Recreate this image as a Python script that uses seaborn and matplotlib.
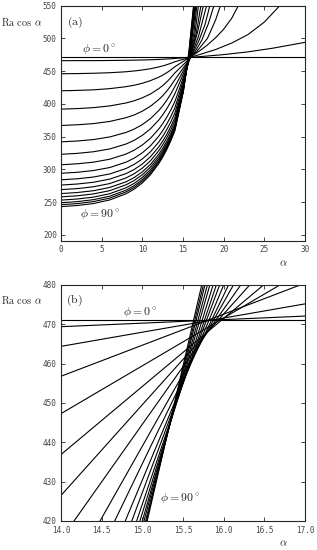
import matplotlib
matplotlib.use("Agg")
import matplotlib.pyplot as plt
import seaborn as sns
import pandas as pd

# Werte: Ra cos(alpha) gegen alpha, Kurven fuer phi = 0..90 Grad
phi_deg = [0, 5, 10, 15, 20, 25, 30, 35, 40, 45, 50, 55, 60, 65, 70, 75, 80, 85, 90]

alpha_flat = [0, 30]
ra_flat = [471.1, 471.1]

# gemeinsame alpha-Stellen fuer den unteren Teil jeder Kurve
alpha_low = [0, 2, 4, 6, 8, 9, 10, 11, 12, 12.5, 13, 13.5, 14]
ra_low_05 = [466.0, 466.1, 466.1, 466.3, 466.6, 466.8, 467.1, 467.4, 467.9, 468.2, 468.6, 468.9, 469.4]
ra_low_10 = [446.0, 446.3, 446.8, 447.6, 449.1, 450.3, 451.8, 453.7, 456.4, 458.0, 459.8, 462.0, 464.4]
ra_low_15 = [420.0, 420.6, 421.5, 423.3, 426.3, 428.5, 431.5, 435.5, 440.7, 443.9, 447.6, 451.9, 456.8]
ra_low_20 = [392.0, 392.8, 394.3, 396.9, 401.4, 404.8, 409.3, 415.2, 423.1, 427.9, 433.5, 440.0, 447.3]
ra_low_25 = [367.0, 368.1, 369.9, 373.2, 378.9, 383.1, 388.9, 396.4, 406.4, 412.4, 419.5, 427.6, 436.9]
ra_low_30 = [342.0, 343.3, 345.5, 349.5, 356.4, 361.5, 368.4, 377.5, 389.6, 396.9, 405.5, 415.3, 426.5]
ra_low_35 = [323.0, 324.4, 326.9, 331.2, 338.7, 344.4, 352.0, 361.9, 375.1, 383.1, 392.5, 403.2, 415.5]
ra_low_40 = [307.0, 308.5, 311.0, 315.5, 323.4, 329.3, 337.2, 347.5, 361.3, 369.7, 379.5, 390.7, 403.5]
ra_low_45 = [294.0, 295.5, 298.2, 302.8, 311.0, 317.1, 325.3, 336.0, 350.3, 359.0, 369.1, 380.7, 394.0]
ra_low_50 = [284.0, 285.6, 288.3, 293.0, 301.3, 307.6, 315.9, 326.8, 341.4, 350.3, 360.6, 372.4, 386.0]
ra_low_55 = [276.0, 277.6, 280.3, 285.1, 293.5, 299.8, 308.2, 319.3, 334.0, 343.0, 353.4, 365.3, 379.0]
ra_low_60 = [269.0, 270.6, 273.4, 278.3, 286.9, 293.3, 301.9, 313.1, 328.1, 337.3, 347.9, 360.0, 374.0]
ra_low_65 = [263.0, 264.6, 267.4, 272.4, 281.0, 287.5, 296.2, 307.5, 322.7, 331.9, 342.6, 354.9, 369.0]
ra_low_70 = [258.0, 259.6, 262.5, 267.5, 276.4, 283.0, 291.8, 303.4, 318.8, 328.2, 339.1, 351.6, 366.0]
ra_low_75 = [253.0, 254.7, 257.6, 262.8, 271.9, 278.6, 287.7, 299.6, 315.5, 325.2, 336.4, 349.2, 364.0]
ra_low_80 = [249.0, 250.7, 253.7, 259.0, 268.2, 275.1, 284.4, 296.5, 312.6, 322.5, 333.9, 347.0, 362.0]
ra_low_85 = [246.0, 247.7, 250.8, 256.1, 265.5, 272.4, 281.8, 294.1, 310.5, 320.4, 332.0, 345.3, 360.5]
ra_low_90 = [243.0, 244.8, 247.8, 253.3, 262.7, 269.8, 279.3, 291.7, 308.3, 318.4, 330.1, 343.6, 359.0]

# oberer Teil (alpha > 14), aus Bild (b) und dem oberen Rand von (a)
alpha_up_05 = [17, 20, 23, 26, 30]
ra_up_05 = [472.1, 475.3, 479.5, 485.0, 494.0]
alpha_up_10 = [17, 19, 21, 23, 25, 26.9]
ra_up_10 = [475.2, 483, 493, 506, 525, 550]
alpha_up_15 = [16.94, 18, 19, 20, 21, 21.8]
ra_up_15 = [480, 490, 501, 514, 531, 550]
alpha_up_20 = [16.69, 18, 19, 19.6]
ra_up_20 = [480, 500, 528, 550]
alpha_up_25 = [16.49, 17.3, 18.1, 18.8]
ra_up_25 = [480, 497, 522, 550]
alpha_up_30 = [16.32, 17.0, 17.7, 18.3]
ra_up_30 = [480, 498, 521, 550]
alpha_up_35 = [14.16, 16.21, 16.9, 17.9]
ra_up_35 = [420, 480, 503, 550]
alpha_up_40 = [14.48, 16.12, 16.8, 17.5]
ra_up_40 = [420, 480, 510, 550]
alpha_up_45 = [14.66, 16.06, 16.6, 17.2]
ra_up_45 = [420, 480, 506, 550]
alpha_up_50 = [14.79, 16.0, 16.45, 16.9]
ra_up_50 = [420, 480, 506, 550]
alpha_up_55 = [14.87, 15.95, 16.35, 16.7]
ra_up_55 = [420, 480, 509, 550]
alpha_up_60 = [14.93, 15.91, 16.6]
alpha_up_65 = [14.97, 15.87, 16.5]
alpha_up_70 = [15.00, 15.83, 16.45]
alpha_up_75 = [15.02, 15.80, 16.4]
alpha_up_80 = [15.04, 15.77, 16.35]
alpha_up_85 = [15.05, 15.75, 16.33]
alpha_up_90 = [15.06, 15.73, 16.3]
ra_up_steep = [420, 480, 550]

curves = [
    (0, alpha_flat, ra_flat),
    (5, alpha_low + alpha_up_05, ra_low_05 + ra_up_05),
    (10, alpha_low + alpha_up_10, ra_low_10 + ra_up_10),
    (15, alpha_low + alpha_up_15, ra_low_15 + ra_up_15),
    (20, alpha_low + alpha_up_20, ra_low_20 + ra_up_20),
    (25, alpha_low + alpha_up_25, ra_low_25 + ra_up_25),
    (30, alpha_low + alpha_up_30, ra_low_30 + ra_up_30),
    (35, alpha_low + alpha_up_35, ra_low_35 + ra_up_35),
    (40, alpha_low + alpha_up_40, ra_low_40 + ra_up_40),
    (45, alpha_low + alpha_up_45, ra_low_45 + ra_up_45),
    (50, alpha_low + alpha_up_50, ra_low_50 + ra_up_50),
    (55, alpha_low + alpha_up_55, ra_low_55 + ra_up_55),
    (60, alpha_low + alpha_up_60, ra_low_60 + ra_up_steep),
    (65, alpha_low + alpha_up_65, ra_low_65 + ra_up_steep),
    (70, alpha_low + alpha_up_70, ra_low_70 + ra_up_steep),
    (75, alpha_low + alpha_up_75, ra_low_75 + ra_up_steep),
    (80, alpha_low + alpha_up_80, ra_low_80 + ra_up_steep),
    (85, alpha_low + alpha_up_85, ra_low_85 + ra_up_steep),
    (90, alpha_low + alpha_up_90, ra_low_90 + ra_up_steep),
]

rows = []
for phi, al, ra in curves:
    for a, r in zip(al, ra):
        rows.append({"phi": phi, "alpha": a, "ra": r})
df = pd.DataFrame(rows)

sns.set_style("ticks")
plt.rcParams["font.family"] = ["DejaVu Sans Mono"]
plt.rcParams["mathtext.fontset"] = "cm"
plt.rcParams["xtick.direction"] = "in"
plt.rcParams["ytick.direction"] = "in"
plt.rcParams["xtick.top"] = True
plt.rcParams["ytick.right"] = True

W, H = 317, 550
fig = plt.figure(figsize=(W / 100, H / 100), dpi=100)


def px(x, y):
    return x / W, 1 - y / H


ax_a = fig.add_axes([61 / W, 1 - 240.7 / H, 244 / W, 235 / H])
ax_b = fig.add_axes([61 / W, 1 - 521 / H, 244 / W, 236 / H])

for ax in (ax_a, ax_b):
    sns.lineplot(data=df, x="alpha", y="ra", units="phi", estimator=None,
                 sort=False, color="black", linewidth=0.8, legend=False, ax=ax)
    ax.set_xlabel("")
    ax.set_ylabel("")
    ax.tick_params(which="both", length=3, width=0.6, labelsize=5.5,
                   labelcolor="#444444", pad=3)
    for s in ax.spines.values():
        s.set_linewidth(0.8)

ax_a.set_xlim(0, 30)
ax_a.set_ylim(191, 550)
ax_a.set_xticks([0, 5, 10, 15, 20, 25, 30])
ax_a.set_xticklabels(["0", "5", "10", "15", "20", "25", "30"])
ax_a.set_yticks([200, 250, 300, 350, 400, 450, 500, 550])

ax_b.set_xlim(14, 17)
ax_b.set_ylim(420, 480)
ax_b.set_xticks([14.0, 14.5, 15.0, 15.5, 16.0, 16.5, 17.0])
ax_b.set_xticklabels(["14.0", "14.5", "15.0", "15.5", "16.0", "16.5", "17.0"])
ax_b.set_yticks([420, 430, 440, 450, 460, 470, 480])
ax_b.tick_params(axis="x", pad=3.5)

lab = r"$\mathrm{Ra}\ \cos\ \alpha$"
fig.text(*px(22, 22), lab, ha="center", va="center", fontsize=7.4)
fig.text(*px(75, 22), r"$(\mathrm{a})$", ha="center", va="center", fontsize=8.5)
fig.text(*px(99, 50), r"$\phi = 0^\circ$", ha="center", va="center", fontsize=8.5)
fig.text(*px(100, 215), r"$\phi = 90^\circ$", ha="center", va="center", fontsize=8.5)
fig.text(*px(283, 263), r"$\alpha$", ha="center", va="center", fontsize=8)

fig.text(*px(22, 300), lab, ha="center", va="center", fontsize=7.4)
fig.text(*px(74, 300), r"$(\mathrm{b})$", ha="center", va="center", fontsize=8.5)
fig.text(*px(140, 313), r"$\phi = 0^\circ$", ha="center", va="center", fontsize=8.5)
fig.text(*px(180, 499), r"$\phi = 90^\circ$", ha="center", va="center", fontsize=8.5)
fig.text(*px(283, 543), r"$\alpha$", ha="center", va="center", fontsize=8)

fig.savefig("out.png", dpi=100)
